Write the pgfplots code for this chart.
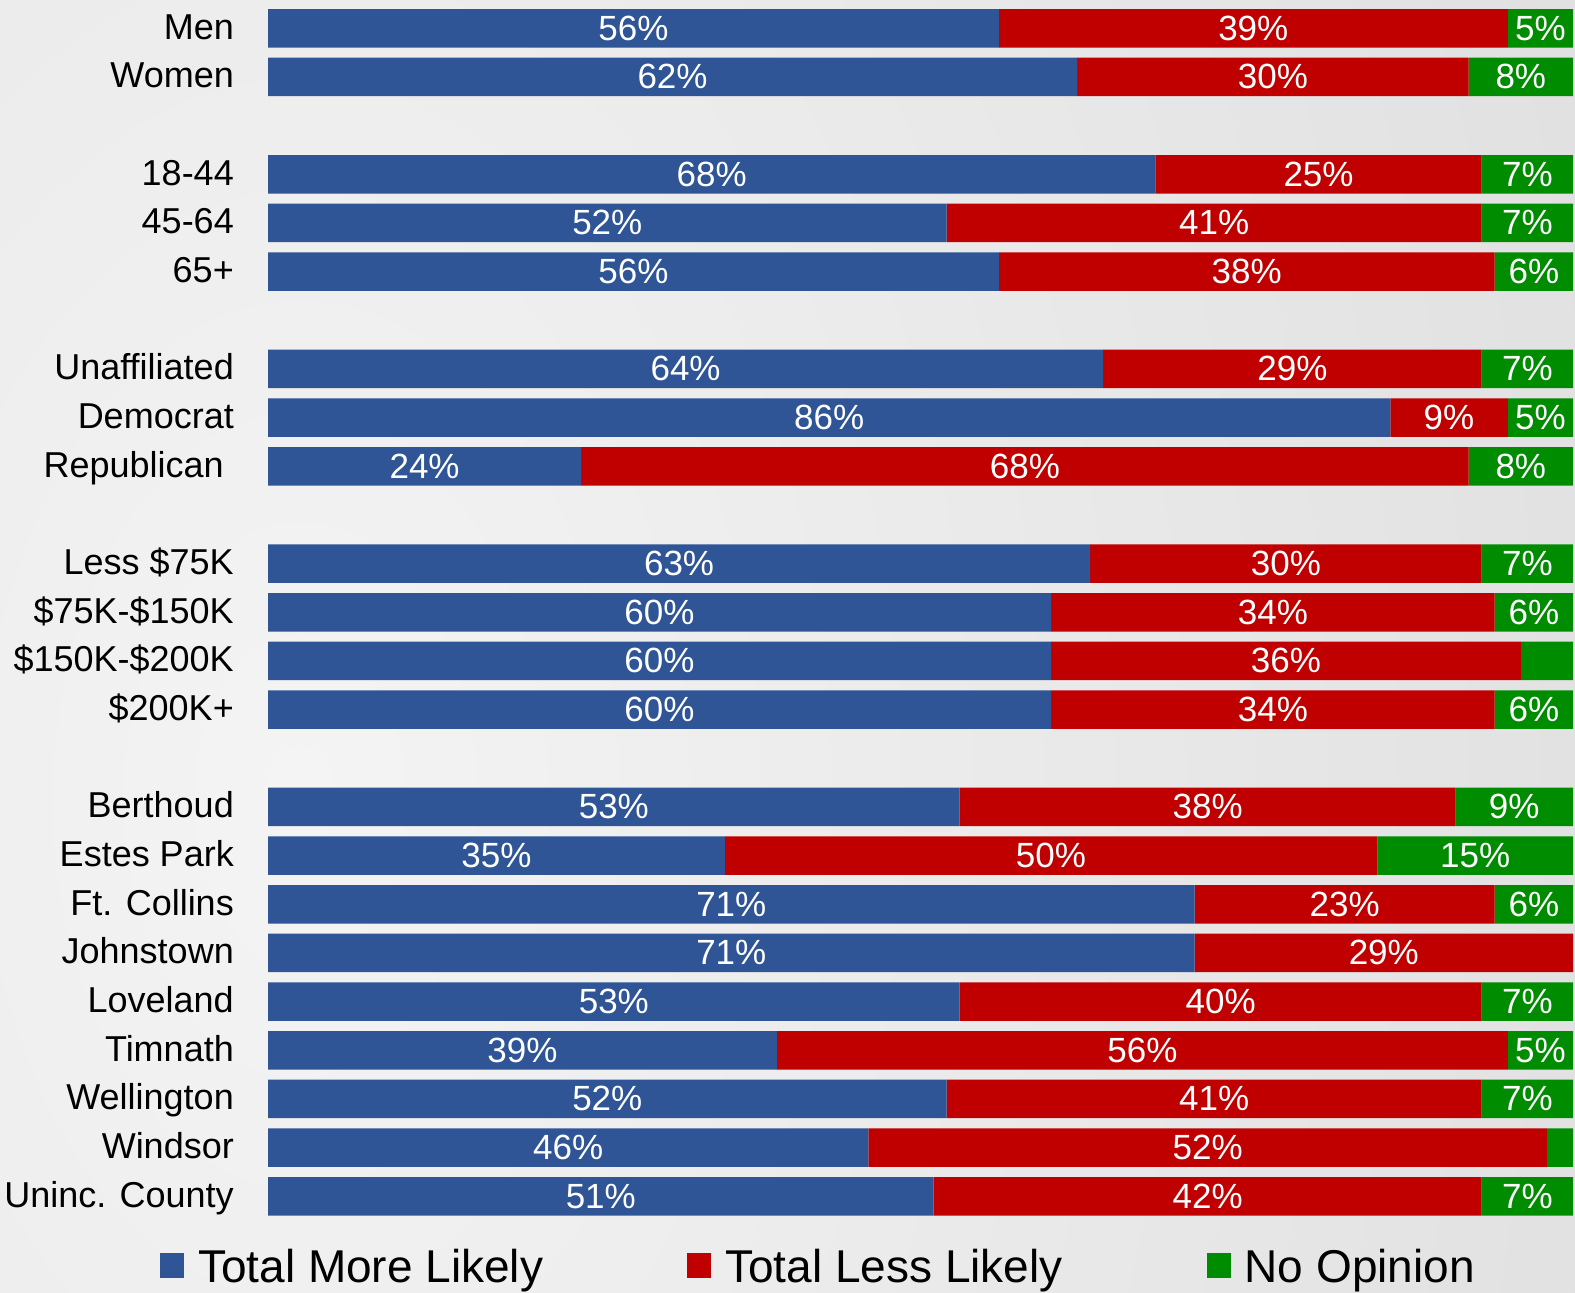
\documentclass[border=0pt]{standalone}
\usepackage{fontspec}
\setmainfont{Liberation Sans}
\usepackage{pgfplots}
\pgfplotsset{compat=1.18}
\definecolor{cblue}{HTML}{2F5597}
\definecolor{cred}{HTML}{C00000}
\definecolor{cgreen}{HTML}{008C00}
\definecolor{bgin}{HTML}{F4F4F4}
\definecolor{bgout}{HTML}{D0D0D0}
\pgfdeclareradialshading{bgshade}{\pgfpoint{0bp}{0bp}}{color(0bp)=(bgin); color(40bp)=(bgout); color(50bp)=(bgout)}
\begin{document}
\begin{tikzpicture}
\path[use as bounding box] (0,0) rectangle (1575bp,1293bp);
\begin{scope}
\clip (0,0) rectangle (1575bp,1293bp);
\shade[shading=bgshade] (300bp,493bp) ellipse [x radius=1594bp, y radius=2500bp];
\end{scope}
\begin{axis}[
  at={(268bp,72.4bp)}, anchor=south west,
  scale only axis, width=1305bp, height=1216.7bp,
  xmin=0, xmax=100, ymin=-0.5, ymax=24.5, y dir=reverse,
  xbar stacked, bar width=38.5bp,
  clip=false,
  hide x axis,
  axis y line*=left,
  y axis line style={draw=none},
  ytick style={draw=none},
  major tick length=0pt,
  ytick={0,1,3,4,5,7,8,9,11,12,13,14,16,17,18,19,20,21,22,23,24},
  yticklabels={Men,Women,18-44,45-64,65+,Unaffiliated,Democrat,Republican\rule{10bp}{0bp},Less \$75K,\$75K-\$150K,\$150K-\$200K,\$200K+,Berthoud,Estes Park,Ft. Collins,Johnstown,Loveland,Timnath,Wellington,Windsor,Uninc. County},
  yticklabel style={font=\fontsize{36bp}{42bp}\selectfont, inner sep=0pt, anchor=base east, xshift=-34bp, yshift=-11bp},
  point meta=explicit symbolic,
  nodes near coords={\ifnum\pgfplotspointmeta>4 \pgfplotspointmeta\%\fi},
  every node near coord/.append style={font=\fontsize{35bp}{42bp}\selectfont, text=white},
  legend columns=3,
  legend style={at={(-0.0828,-0.038)}, anchor=west, draw=none, fill=none,
    inner xsep=0bp, inner ysep=0bp,
    font=\fontsize{46bp}{50bp}\selectfont,
    nodes={inner sep=0bp},
    /tikz/every odd column/.append style={column sep=14bp},
    /tikz/every even column/.append style={column sep=144bp}},
  legsq/.style={legend image code/.code={\fill[##1] (0bp,-11.6bp) rectangle (24bp,13.4bp);}},
]
\addplot[fill=cblue, draw=none, legsq] coordinates {
(56,0)[56] (62,1)[62] (68,3)[68] (52,4)[52] (56,5)[56] (64,7)[64] (86,8)[86] (24,9)[24]
(63,11)[63] (60,12)[60] (60,13)[60] (60,14)[60]
(53,16)[53] (35,17)[35] (71,18)[71] (71,19)[71] (53,20)[53] (39,21)[39] (52,22)[52] (46,23)[46] (51,24)[51]};
\addlegendentry{Total More Likely}
\addplot[fill=cred, draw=none, legsq] coordinates {
(39,0)[39] (30,1)[30] (25,3)[25] (41,4)[41] (38,5)[38] (29,7)[29] (9,8)[9] (68,9)[68]
(30,11)[30] (34,12)[34] (36,13)[36] (34,14)[34]
(38,16)[38] (50,17)[50] (23,18)[23] (29,19)[29] (40,20)[40] (56,21)[56] (41,22)[41] (52,23)[52] (42,24)[42]};
\addlegendentry{Total Less Likely}
\addplot[fill=cgreen, draw=none, legsq] coordinates {
(5,0)[5] (8,1)[8] (7,3)[7] (7,4)[7] (6,5)[6] (7,7)[7] (5,8)[5] (8,9)[8]
(7,11)[7] (6,12)[6] (4,13)[0] (6,14)[6]
(9,16)[9] (15,17)[15] (6,18)[6] (0,19)[0] (7,20)[7] (5,21)[5] (7,22)[7] (2,23)[0] (7,24)[7]};
\addlegendentry{No Opinion}
\end{axis}
\end{tikzpicture}
\end{document}
